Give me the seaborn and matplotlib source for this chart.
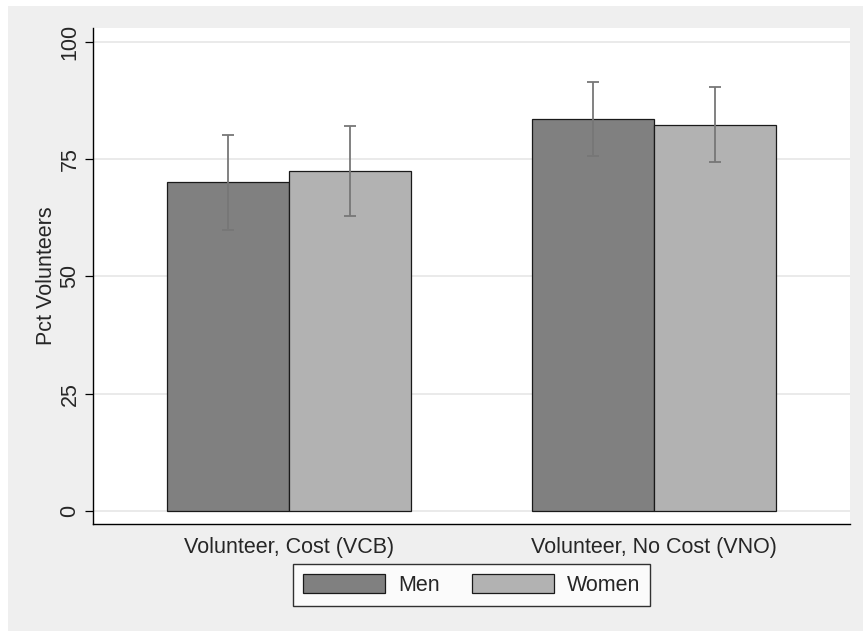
import pandas as pd
import matplotlib.pyplot as plt
import matplotlib.patches as mpatches
import seaborn as sns

# values
categories = ["Volunteer, Cost (VCB)", "Volunteer, No Cost (VNO)"]
groups = ["Men", "Women"]
men_pct = [70.1, 83.5]
women_pct = [72.6, 82.3]
men_lo = [60.0, 75.6]
men_hi = [80.1, 91.4]
women_lo = [63.0, 74.4]
women_hi = [82.2, 90.4]

df = pd.DataFrame({
    "category": categories * 2,
    "group": ["Men"] * 2 + ["Women"] * 2,
    "pct": men_pct + women_pct,
    "lo": men_lo + women_lo,
    "hi": men_hi + women_hi,
})

sns.set_theme(style="white")
plt.rcParams["font.family"] = ["Liberation Sans", "DejaVu Sans"]
FS = 15.5

fig = plt.figure(figsize=(8.63, 6.31), dpi=100, facecolor="white")
# stata-style grey background (screenshot has thin white strip top/left)
fig.patches.append(mpatches.Rectangle((8 / 863, -0.01), 1.02, 1.01 - 6 / 631,
                                      transform=fig.transFigure,
                                      facecolor="#efefef", edgecolor="none", zorder=-10))
ax = fig.add_axes([93 / 863, 107 / 631, 757 / 863, 496 / 631])
ax.set_facecolor("white")

palette = {"Men": "#808080", "Women": "#b2b2b2"}
sns.barplot(data=df, x="category", y="pct", hue="group", order=categories,
            hue_order=groups, palette=palette, width=0.668, errorbar=None,
            edgecolor="#1a1a1a", linewidth=0.9, saturation=1, ax=ax, zorder=3)

# confidence intervals placed at the bar centres
for cont, g in zip(ax.containers, groups):
    sub = df[df["group"] == g].set_index("category").loc[categories]
    xs = [p.get_x() + p.get_width() / 2 for p in cont.patches]
    ax.errorbar(xs, sub["pct"], yerr=[sub["pct"] - sub["lo"], sub["hi"] - sub["pct"]],
                fmt="none", ecolor="#777777", elinewidth=1.3, capsize=4,
                capthick=1.3, zorder=4)

ax.set_xlim(-0.537, 1.537)
ax.set_ylim(-2.8, 103)
ax.set_yticks([0, 25, 50, 75, 100])
ax.yaxis.grid(True, color="#e8e8e8", linewidth=1.3, zorder=0)
ax.set_axisbelow(True)
for s in ["top", "right"]:
    ax.spines[s].set_visible(False)
for s in ["left", "bottom"]:
    ax.spines[s].set_color("black")
    ax.spines[s].set_linewidth(1.0)

ax.tick_params(axis="y", left=True, length=6, width=0.9, color="black",
               labelsize=FS, pad=3)
ax.tick_params(axis="x", bottom=False, labelsize=FS, pad=3)
plt.setp(ax.get_yticklabels(), rotation=90, va="center")
ax.set_xlabel("")
ax.set_ylabel("Pct Volunteers", fontsize=FS, labelpad=2)

leg = ax.legend(loc="center", bbox_to_anchor=(0.5, -0.123), ncol=2,
                frameon=True, fancybox=False, fontsize=FS, title=None,
                handlelength=3.8, handleheight=1.0, handletextpad=0.6,
                columnspacing=1.5, borderpad=0.45)
leg.get_frame().set_edgecolor("black")
leg.get_frame().set_linewidth(1.0)
leg.get_frame().set_facecolor("white")

fig.savefig("out.png", dpi=100, facecolor=fig.get_facecolor())
